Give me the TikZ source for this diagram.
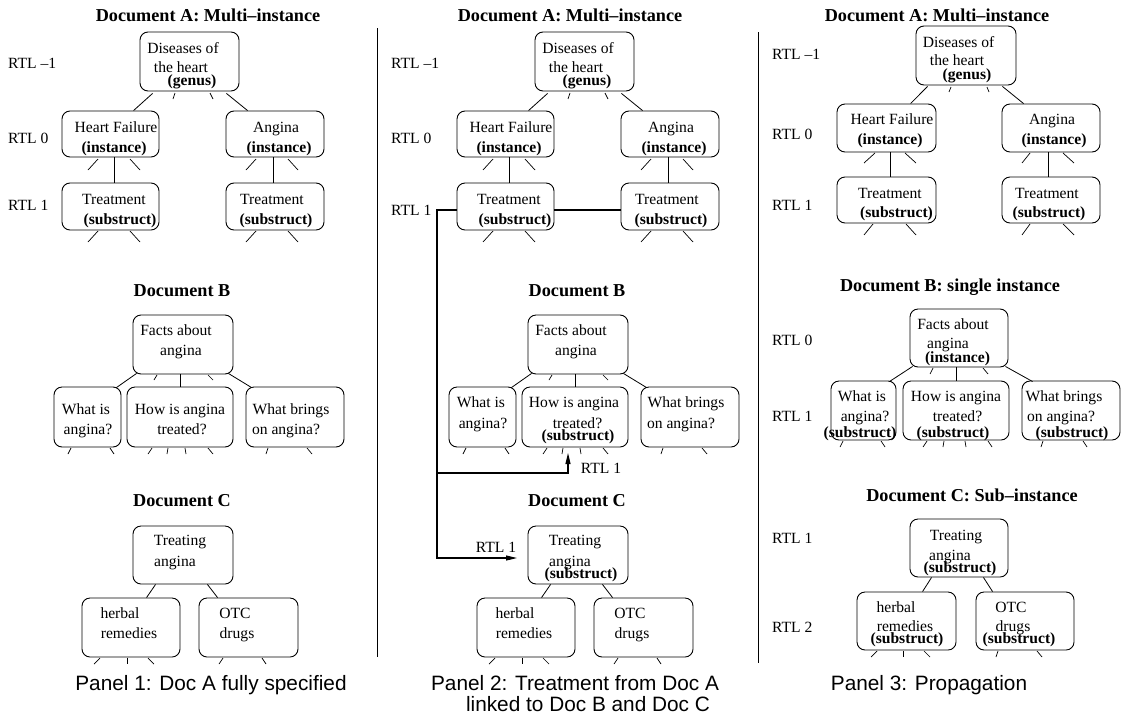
\documentclass[tikz,border=0pt]{standalone}
\usepackage{fontspec}
\setmainfont{Liberation Serif}
\setsansfont{Liberation Sans}
\usetikzlibrary{arrows.meta}
\newcounter{lbl}
\tikzset{
  box/.style={draw, rounded corners=8pt, line width=0.9pt, inner sep=0pt},
  link/.style={line width=0.8pt},
  stub/.style={line width=0.7pt},
  route/.style={line width=1.1pt},
  arr/.style={route, -{Triangle[length=11pt,width=5pt]}},
  txt/.style={anchor=base, inner sep=0pt, font=\fontsize{15.6}{18}\selectfont},
  btxt/.style={txt, font=\fontsize{15.6}{18}\selectfont\bfseries},
  rtl/.style={txt, anchor=base west},
  ttl/.style={anchor=base, inner sep=0pt, font=\fontsize{18.2}{21}\selectfont\bfseries},
  captext/.style={anchor=base, inner sep=0pt, font=\fontsize{20.8}{24}\selectfont\sffamily},
}
% rounded box given by its corners (x1,y1) and (x2,y2)
\newcommand\boxnode[5]{\node[box, minimum width={(#4-#2)*1pt}, minimum height={(#5-#3)*1pt}] (#1) at ({(#2+#4)/2},{(#3+#5)/2}) {};}
% text line, positioned by the middle of its letters
\newcommand\tlab[4][txt]{\stepcounter{lbl}\node[#1] (lbl\arabic{lbl}) at (#2,{#3+5}) {#4};}
% short open branch below a box
\newcommand\stubline[4]{\draw[stub] (#1,#2) -- (#3,#4);}

% boxes, links and open branches of documents A, B and C (first two panels)
\newcommand\docgeom{%
  % Document A
  \boxnode{g}{140}{32}{239}{91}
  \boxnode{h}{62}{111}{159}{157}
  \boxnode{a}{226}{111}{324}{157}
  \boxnode{tl}{62}{183}{159}{230}
  \boxnode{tr}{226}{183}{324}{230}
  \draw[link] ([shift={(13,2)}]g.south west) -- ([shift={(72,0)}]h.north west);
  \draw[link] ([shift={(-13,2)}]g.south east) -- ([shift={(22,0)}]a.north west);
  \draw[link] ([xshift=3.5pt]h.south) -- ([xshift=3.5pt]tl.north);
  \draw[link] ([xshift=-2pt]a.south) -- ([xshift=-2pt]tr.north);
  \stubline{175}{93}{173}{99}\stubline{210}{93}{213}{99}
  \stubline{98}{159}{88}{170}\stubline{130}{159}{140}{170}
  \stubline{256}{159}{246}{170}\stubline{288}{159}{298}{170}
  \stubline{98}{231}{88}{242}\stubline{130}{231}{140}{242}
  \stubline{256}{231}{246}{242}\stubline{288}{231}{298}{242}
  % Document B
  \boxnode{f}{133}{315}{233}{374}
  \boxnode{wi}{54}{387}{121}{447}
  \boxnode{hw}{127}{387}{233}{447}
  \boxnode{wb}{246}{387}{344}{447}
  \draw[link] ([shift={(4,-1)}]f.south west) -- ([shift={(-5,1)}]wi.north east);
  \draw[link] ([xshift=-3pt]f.south) -- ([xshift=0pt]hw.north);
  \draw[link] ([shift={(-5,-1)}]f.south east) -- ([shift={(6,1)}]wb.north west);
  \stubline{157}{375}{154}{380}\stubline{208}{375}{213}{380}
  \stubline{71}{448}{68}{454}\stubline{110}{448}{114}{454}
  \stubline{152}{448}{148}{454}\stubline{168}{448}{167}{454}
  \stubline{185}{448}{186}{454}\stubline{208}{448}{213}{454}
  \stubline{268}{448}{266}{454}\stubline{307}{448}{312}{454}
  % Document C
  \boxnode{tc}{133}{526}{233}{584}
  \boxnode{hb}{82}{598}{180}{657}
  \boxnode{ot}{199}{598}{298}{657}
  \draw[link] ([shift={(23,0)}]tc.south west) -- ([shift={(65,0)}]hb.north west);
  \draw[link] ([shift={(-26,0)}]tc.south east) -- ([shift={(19,0)}]ot.north west);
  \stubline{100}{658}{94}{664}\stubline{127}{658}{127}{664}\stubline{148}{658}{154}{664}
  \stubline{223}{658}{219}{664}\stubline{262}{658}{266}{664}
  % shared texts
  \tlab{183}{48}{Diseases of}\tlab{181}{67}{the heart}\tlab[btxt]{192}{80}{(genus)}
  \tlab{116}{127}{Heart Failure}\tlab[btxt]{114}{147}{(instance)}
  \tlab{276}{127}{Angina}\tlab[btxt]{279}{147}{(instance)}
  \tlab{114}{199}{Treatment}\tlab[btxt]{120}{219}{(substruct)}
  \tlab{272}{199}{Treatment}\tlab[btxt]{276}{219}{(substruct)}
  \tlab[ttl]{182}{291}{Document B}
  \tlab{176}{330}{Facts about}\tlab{181}{350}{angina}
  \tlab[ttl]{182}{501}{Document C}
  \tlab{180}{540}{Treating}\tlab{175}{561}{angina}
  \tlab{120}{613}{herbal}\tlab{129}{633}{remedies}
  \tlab{235}{613}{OTC}\tlab{237}{633}{drugs}
}

\begin{document}
\begin{tikzpicture}[x=1pt, y=-1pt, line cap=butt]
\fill[white] (0,0) rectangle (1126,715);
\useasboundingbox (0,0) rectangle (1126,715);

% panel separators
\draw[line width=0.9pt] (377,28) -- (377,657);
\draw[line width=0.9pt] (758,32) -- (758,663);

% ---------- Panel 1 ----------
\begin{scope}[name prefix=p1-]
  \docgeom
  \tlab[ttl]{208}{16}{Document A: Multi–instance}
  \tlab[rtl]{8}{63}{RTL –1}
  \tlab[rtl]{8}{138}{RTL 0}
  \tlab[rtl]{8}{205}{RTL 1}
  \tlab{86}{409}{What is}\tlab{88}{429}{angina?}
  \tlab{180}{409}{How is angina}\tlab{182}{429}{treated?}
  \tlab{291}{409}{What brings}\tlab{286}{429}{on angina?}
  \tlab[captext]{211}{685}{Panel 1: Doc A fully specified}
\end{scope}

% ---------- Panel 2 ----------
\begin{scope}[shift={(395,0)}, name prefix=p2-]
  \docgeom
  \tlab[ttl]{175}{16}{Document A: Multi–instance}
  \tlab[rtl]{-4}{63}{RTL –1}
  \tlab[rtl]{-4}{138}{RTL 0}
  \tlab[rtl]{-4}{210}{RTL 1}
  \tlab{86}{402}{What is}\tlab{88}{423}{angina?}
  \tlab{179}{402}{How is angina}\tlab{182.5}{423}{treated?}\tlab[btxt]{183}{435}{(substruct)}
  \tlab{291}{402}{What brings}\tlab{286}{423}{on angina?}
  \tlab[btxt]{186}{573}{(substruct)}
  % link from Treatment to Documents B and C
  \coordinate (split) at (42,473);
  \coordinate (bend) at (42,558);
  \coordinate (tipB) at (173,453);
  \coordinate (tipC) at (122,558);
  \draw[route] ([yshift=-3.5pt]tl.east) -- ([yshift=-3.5pt]tr.west);
  \draw[arr] ([yshift=-3.5pt]tl.west) -| (bend) -- (tipC);
  \draw[arr] (split) -| (tipB);
  \tlab{206}{468}{RTL 1}
  \tlab{101}{547}{RTL 1}
  \tlab[captext]{180}{685}{Panel 2: Treatment from Doc A}
  \tlab[captext]{193}{706}{linked to Doc B and Doc C}
\end{scope}

% ---------- Panel 3 ----------
\begin{scope}[name prefix=p3-]
  % Document A
  \boxnode{g}{916}{26}{1016}{85}
  \boxnode{h}{837}{104}{936}{152}
  \boxnode{a}{1002}{104}{1100}{152}
  \boxnode{tl}{837}{177}{936}{223}
  \boxnode{tr}{1002}{177}{1100}{223}
  \draw[link] ([shift={(12,1)}]g.south west) -- ([shift={(74,0)}]h.north west);
  \draw[link] ([shift={(-14,1)}]g.south east) -- ([shift={(22,0)}]a.north west);
  \draw[link] ([xshift=3.5pt]h.south) -- ([xshift=3.5pt]tl.north);
  \draw[link] ([xshift=-3pt]a.south) -- ([xshift=-3pt]tr.north);
  \stubline{951}{87}{949}{92}\stubline{987}{87}{989}{92}
  \stubline{875}{153}{864}{163}\stubline{905}{153}{916}{163}
  \stubline{1030}{153}{1022}{163}\stubline{1063}{153}{1074}{163}
  \stubline{873}{224}{864}{235}\stubline{906}{224}{916}{235}
  \stubline{1030}{224}{1022}{235}\stubline{1063}{224}{1074}{235}
  \tlab[ttl]{937}{16}{Document A: Multi–instance}
  \tlab[rtl]{772}{54}{RTL –1}
  \tlab[rtl]{772}{134}{RTL 0}
  \tlab[rtl]{772}{205}{RTL 1}
  \tlab{958.5}{42}{Diseases of}\tlab{957}{60}{the heart}\tlab[btxt]{967}{74}{(genus)}
  \tlab{892}{119}{Heart Failure}\tlab[btxt]{890}{139}{(instance)}
  \tlab{1052}{119}{Angina}\tlab[btxt]{1054}{139}{(instance)}
  \tlab{890}{193}{Treatment}\tlab[btxt]{896.5}{212}{(substruct)}
  \tlab{1047}{193}{Treatment}\tlab[btxt]{1049}{212}{(substruct)}
  % Document B
  \boxnode{f}{910}{309}{1008}{367}
  \boxnode{wi}{831}{381}{896}{440}
  \boxnode{hw}{903}{381}{1009}{440}
  \boxnode{wb}{1022}{381}{1120}{440}
  \draw[link] ([shift={(3,-1)}]f.south west) -- ([shift={(-7,1)}]wi.north east);
  \draw[link] ([xshift=-3pt]f.south) -- ([xshift=0pt]hw.north);
  \draw[link] ([shift={(-3,-1)}]f.south east) -- ([shift={(11,1)}]wb.north west);
  \stubline{933}{368}{930}{374}\stubline{983}{368}{988}{374}
  \stubline{843}{441}{840}{447}\stubline{881}{441}{885}{447}
  \stubline{927}{441}{923}{447}\stubline{944}{441}{943}{447}
  \stubline{965}{441}{966}{447}\stubline{988}{441}{992}{447}
  \stubline{1043}{441}{1041}{447}\stubline{1083}{441}{1087}{447}
  \tlab[ttl]{950}{286}{Document B: single instance}
  \tlab[rtl]{772}{340}{RTL 0}
  \tlab[rtl]{772}{416}{RTL 1}
  \tlab{953}{324}{Facts about}\tlab{948}{343}{angina}\tlab[btxt]{957.5}{357}{(instance)}
  \tlab{862}{396}{What is}\tlab{865}{416}{angina?}\tlab[btxt]{860}{432}{(substruct)}
  \tlab{956}{396}{How is angina}\tlab{957.5}{416}{treated?}\tlab[btxt]{953}{432}{(substruct)}
  \tlab{1064}{396}{What brings}\tlab{1061}{416}{on angina?}\tlab[btxt]{1072}{432}{(substruct)}
  % Document C
  \boxnode{tc}{910}{519}{1008}{577}
  \boxnode{hb}{857}{592}{956}{650}
  \boxnode{ot}{976}{592}{1074}{650}
  \draw[link] ([shift={(22,0)}]tc.south west) -- ([shift={(66,0)}]hb.north west);
  \draw[link] ([shift={(-25,0)}]tc.south east) -- ([shift={(17,0)}]ot.north west);
  \stubline{877}{651}{871}{657}\stubline{903}{651}{903}{657}\stubline{924}{651}{930}{657}
  \stubline{998}{651}{996}{657}\stubline{1037}{651}{1042}{657}
  \tlab[ttl]{972}{496}{Document C: Sub–instance}
  \tlab[rtl]{772}{538}{RTL 1}
  \tlab[rtl]{772}{627}{RTL 2}
  \tlab{956}{535}{Treating}\tlab{950}{555}{angina}\tlab[btxt]{960}{567}{(substruct)}
  \tlab{896}{607}{herbal}\tlab{905}{626}{remedies}\tlab[btxt]{907}{638}{(substruct)}
  \tlab{1011}{607}{OTC}\tlab{1013}{626}{drugs}\tlab[btxt]{1019}{638}{(substruct)}
  \tlab[captext]{929}{685}{Panel 3: Propagation}
\end{scope}
\end{tikzpicture}
\end{document}
